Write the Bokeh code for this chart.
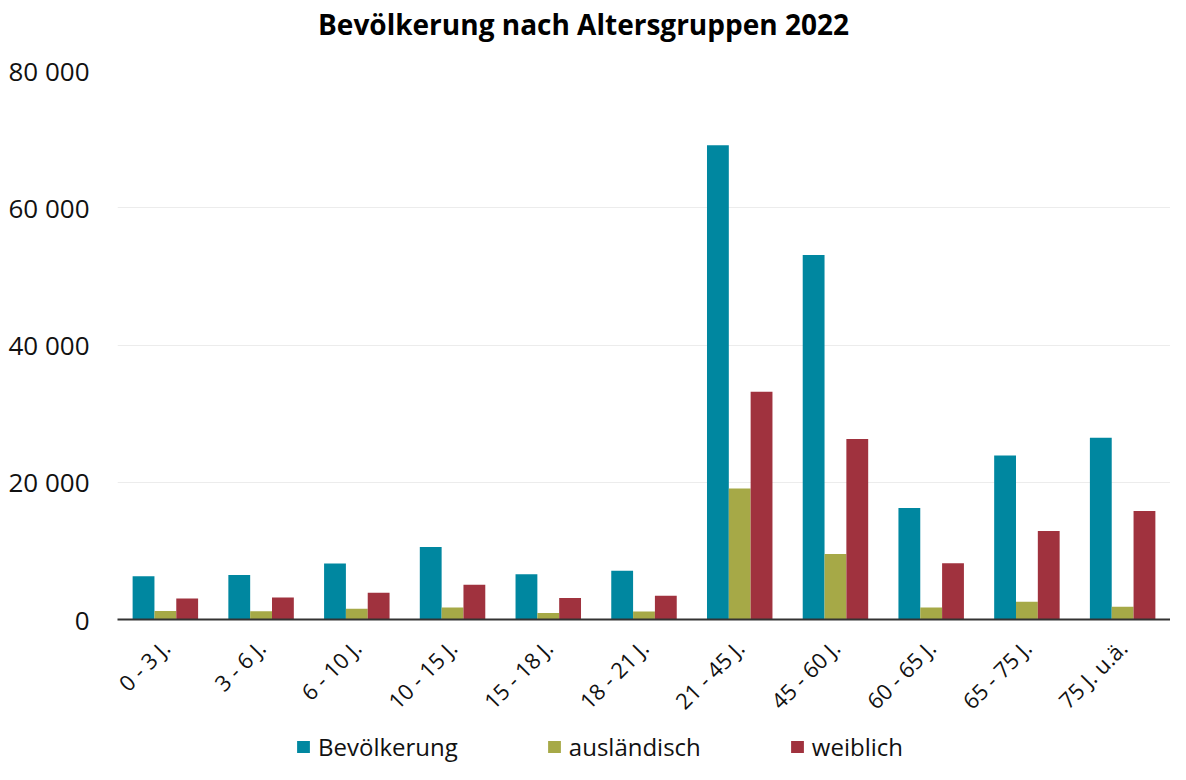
import math
from bokeh.plotting import figure
from bokeh.layouts import column
from bokeh.models import FactorRange, Range1d, FixedTicker, Legend, LegendItem, ColumnDataSource, Label
from bokeh.transform import dodge
from bokeh.embed import file_html
from bokeh.resources import INLINE

categories = ["0 - 3 J.", "3 - 6 J.", "6 - 10 J.", "10 - 15 J.", "15 - 18 J.", "18 - 21 J.",
              "21 - 45 J.", "45 - 60 J.", "60 - 65 J.", "65 - 75 J.", "75 J. u.ä."]
bevoelkerung = [6300, 6500, 8150, 10550, 6600, 7100, 69100, 53100, 16250, 23900, 26500]
auslaendisch = [1250, 1200, 1550, 1750, 950, 1150, 19100, 9550, 1750, 2600, 1850]
weiblich = [3050, 3200, 3900, 5050, 3150, 3450, 33200, 26300, 8200, 12900, 15800]
series_names = ["Bevölkerung", "ausländisch", "weiblich"]
colors = ["#0087A0", "#A6A947", "#A0323E"]
y_ticks = [0, 20000, 40000, 60000, 80000]
y_tick_labels = ["0", "20 000", "40 000", "60 000", "80 000"]
title_text = "Bevölkerung nach Altersgruppen 2022"

src = ColumnDataSource(dict(cat=categories, bev=bevoelkerung, aus=auslaendisch, wei=weiblich))

W = 1170
H_TITLE = 48
H_MAIN = 680
H_LEG = 36
LEFT = 117


def strip(height):
    f = figure(width=W, height=height, output_backend="svg", toolbar_location=None,
               x_range=Range1d(0, 1), y_range=Range1d(0, 1),
               min_border_left=LEFT, min_border_right=0, min_border_top=0, min_border_bottom=0)
    f.axis.visible = False
    f.grid.grid_line_color = None
    f.outline_line_color = None
    return f


# title strip
p0 = strip(H_TITLE)
p0.add_layout(Label(x=(583 - LEFT) / (W - LEFT), y=1 - 23 / H_TITLE, text=title_text,
                    text_align="center", text_baseline="middle",
                    text_font="Open Sans", text_font_size="28px", text_font_style="bold",
                    text_color="#000000"))

# main chart
p = figure(x_range=FactorRange(factors=categories, range_padding=0),
           y_range=Range1d(0, 80000),
           width=W, height=H_MAIN, output_backend="svg", toolbar_location=None,
           min_border_left=LEFT, min_border_right=0, min_border_top=22, min_border_bottom=109)

bw = 0.228
cols = ["bev", "aus", "wei"]
offsets = [-bw, 0, bw]
for c, off, col in zip(cols, offsets, colors):
    p.vbar(x=dodge("cat", off, range=p.x_range), top=c, width=bw, source=src,
           fill_color=col, line_color=None)

p.outline_line_color = None
p.xgrid.grid_line_color = None
p.ygrid.grid_line_color = "#ececec"
p.ygrid.ticker = FixedTicker(ticks=y_ticks)

p.yaxis.ticker = FixedTicker(ticks=y_ticks)
p.yaxis.major_label_overrides = {t: l for t, l in zip(y_ticks, y_tick_labels)}
p.yaxis.axis_line_color = None
p.yaxis.major_tick_line_color = None
p.yaxis.minor_tick_line_color = None
p.yaxis.major_label_standoff = 22
p.yaxis.major_label_text_font = "Open Sans"
p.yaxis.major_label_text_font_size = "26px"
p.yaxis.major_label_text_color = "#111111"

p.xaxis.major_label_orientation = math.pi / 4
p.xaxis.major_label_text_font = "Open Sans"
p.xaxis.major_label_text_font_size = "22px"
p.xaxis.major_label_text_color = "#111111"
p.xaxis.major_tick_line_color = None
p.xaxis.minor_tick_line_color = None
p.xaxis.axis_line_color = "#333333"
p.xaxis.axis_line_width = 2
p.xaxis.major_label_standoff = 18

# legend strip
p2 = strip(H_LEG)
leg_renderers = []
for col in colors:
    r = p2.vbar(x=[5], top=[5], bottom=[4], width=0.1, fill_color=col, line_color=None)
    leg_renderers.append(r)

legend = Legend(items=[LegendItem(label=n, renderers=[r]) for n, r in zip(series_names, leg_renderers)],
                orientation="horizontal", location=(295 - LEFT, 1),
                label_text_font="Open Sans", label_text_font_size="24px", label_text_color="#111111",
                glyph_width=16, glyph_height=15, label_standoff=7, spacing=88,
                border_line_color=None, padding=0, margin=0, background_fill_alpha=0)
p2.add_layout(legend, "center")

layout = column(p0, p, p2, spacing=0)
open("out.html", "w").write(file_html(layout, INLINE))
